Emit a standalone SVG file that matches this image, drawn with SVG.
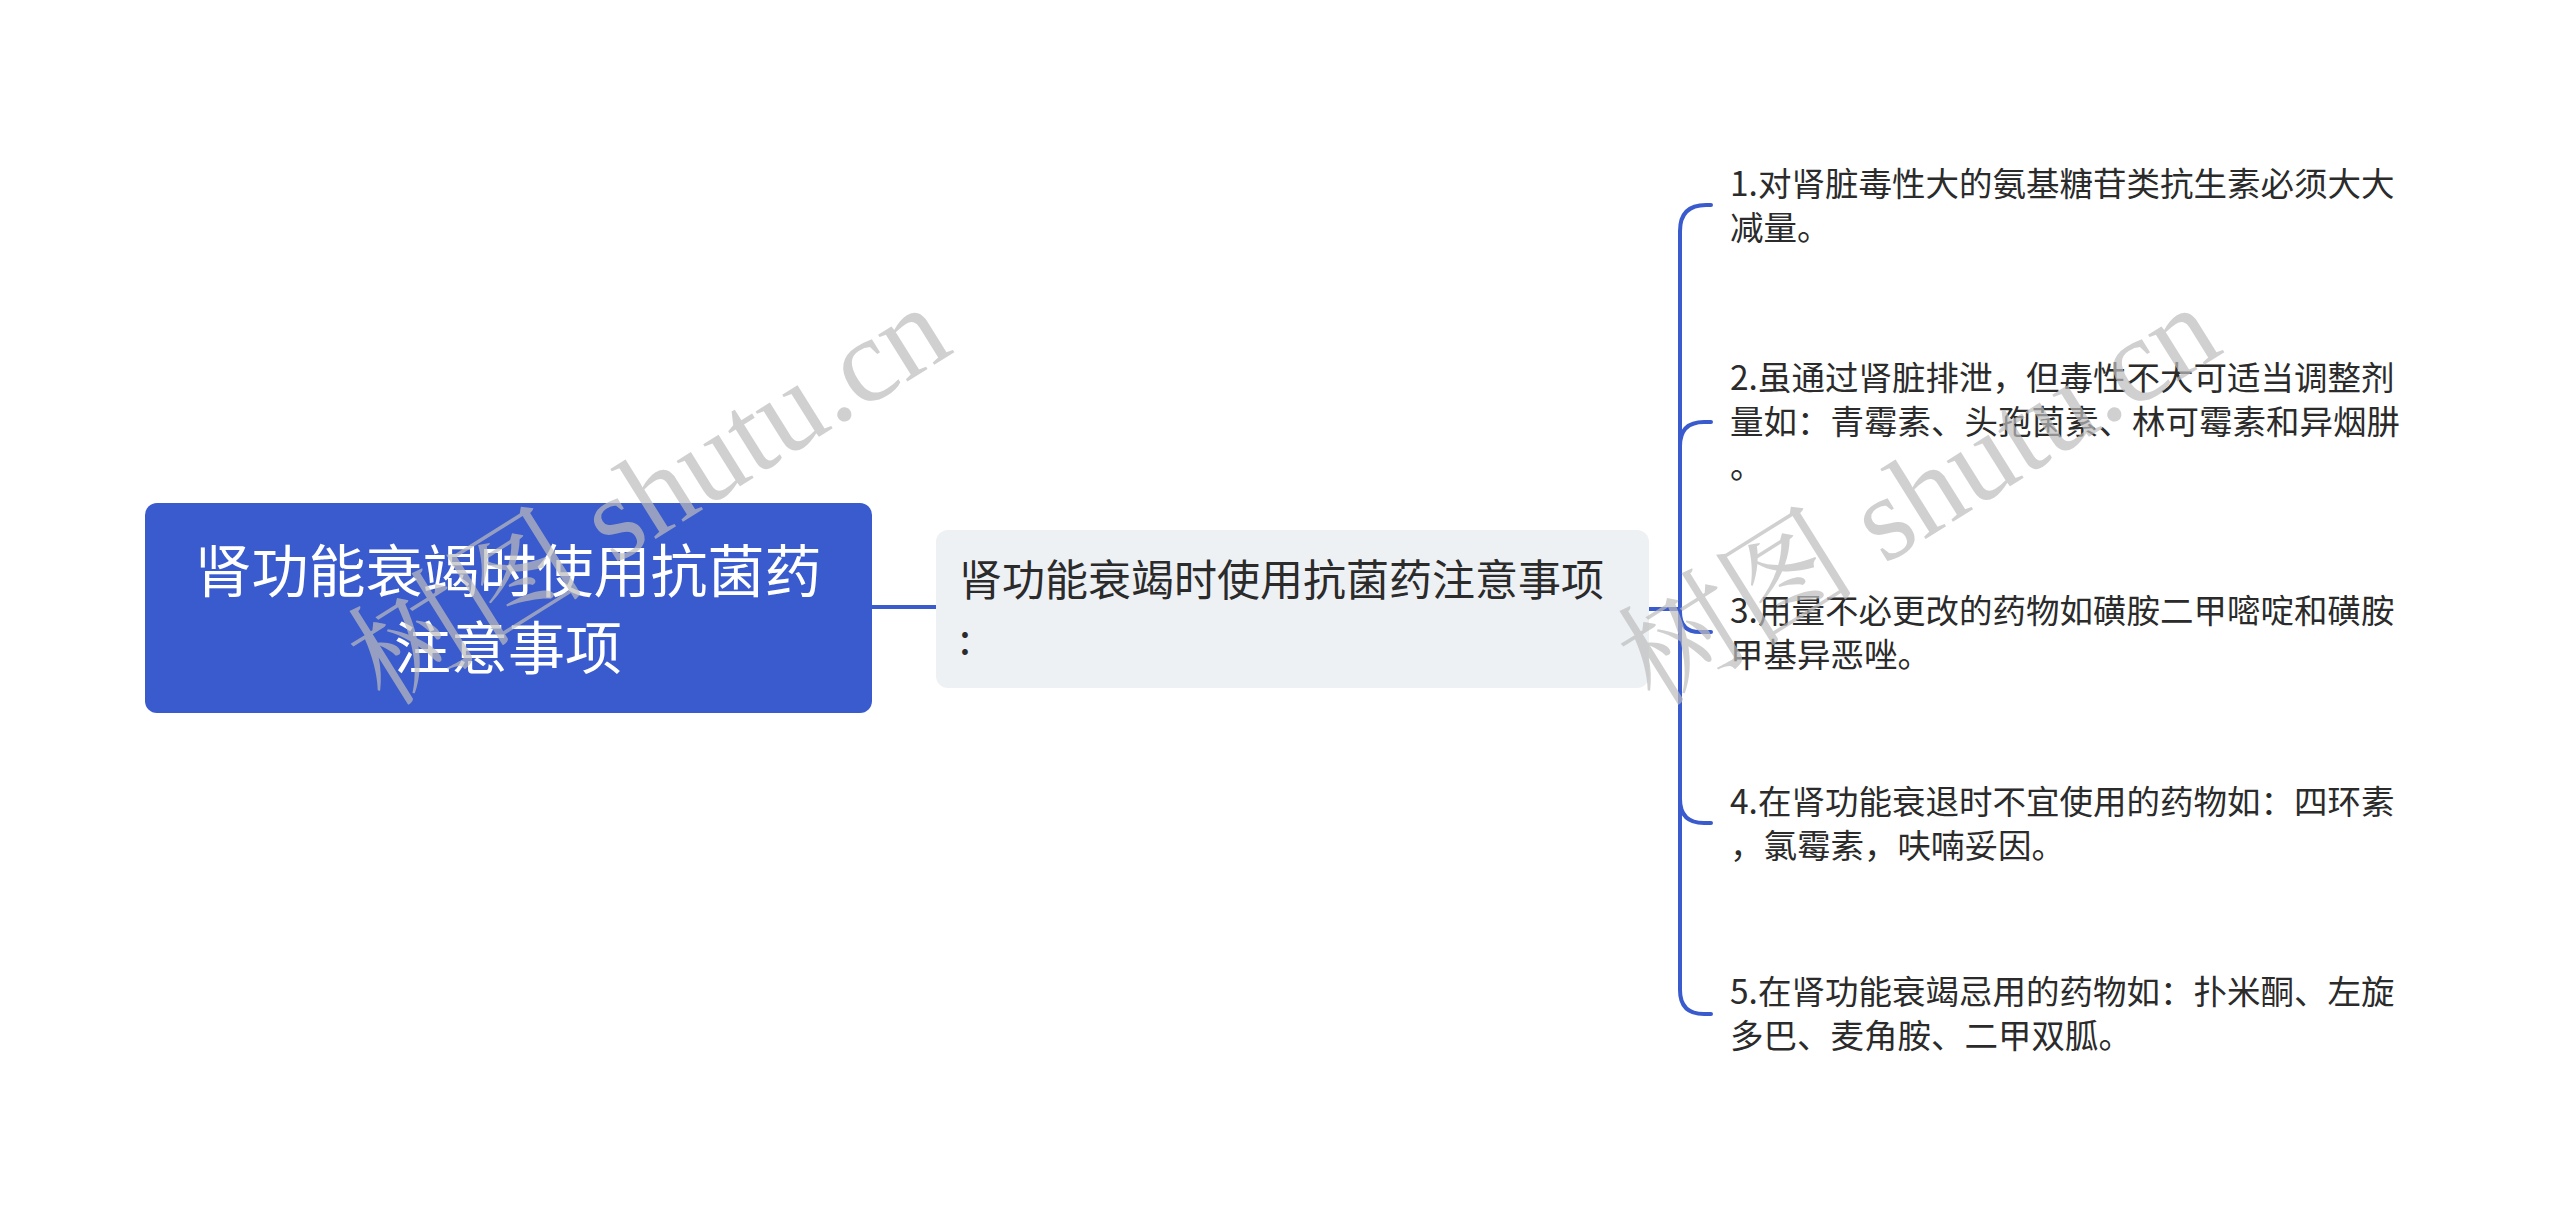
<svg xmlns="http://www.w3.org/2000/svg" width="2560" height="1218" viewBox="0 0 2560 1218">
<style>
.root-box{fill:#3a5bcd;}
.mid-box{fill:#eef1f4;}
.root-t{font-family:"Noto Sans CJK SC","Noto Sans",sans-serif;font-size:57px;fill:#ffffff;text-anchor:middle;}
.mid-t{font-family:"Noto Sans CJK SC","Noto Sans",sans-serif;font-size:43px;fill:#2b2b2b;}
.leaf-t{font-family:"Noto Sans CJK SC","Noto Sans",sans-serif;font-size:33.5px;fill:#2b2b2b;}
.conn{fill:none;stroke:#3a5bcd;stroke-width:4;stroke-linecap:round;stroke-linejoin:round;}
.wm{font-family:"Liberation Serif","Noto Serif CJK SC","Noto Sans CJK SC",serif;font-size:120px;fill:#bdbdbd;opacity:0.7;}
</style>
<rect width="2560" height="1218" fill="#ffffff"/>
<g id="connectors">
<path class="conn" d="M872,607 H936"/>
<path class="conn" d="M1649,609 H1680"/>
<path class="conn" d="M1680,609 V231 Q1680,205 1706,205 H1711"/>
<path class="conn" d="M1680,609 V446 Q1680,422 1704,422 H1711"/>
<path class="conn" d="M1680,609 V612 Q1680,632 1700,632 H1711"/>
<path class="conn" d="M1680,609 V799 Q1680,823 1704,823 H1711"/>
<path class="conn" d="M1680,609 V990 Q1680,1014 1704,1014 H1711"/>
</g>
<g id="root">
<rect class="root-box" x="145" y="503" width="727" height="210" rx="12"/>
<text class="root-t" x="508" y="592">肾功能衰竭时使用抗菌药</text>
<text class="root-t" x="508" y="669">注意事项</text>
</g>
<g id="middle">
<rect class="mid-box" x="936" y="530" width="713" height="158" rx="12"/>
<text class="mid-t" x="959" y="596">肾功能衰竭时使用抗菌药注意事项</text>
<text class="mid-t" x="959" y="654">:</text>
</g>
<g id="leaf1">
<text class="leaf-t" x="1730" y="196">1.对肾脏毒性大的氨基糖苷类抗生素必须大大</text>
<text class="leaf-t" x="1730" y="240">减量。</text>
</g>
<g id="leaf2">
<text class="leaf-t" x="1730" y="390">2.虽通过肾脏排泄，但毒性不大可适当调整剂</text>
<text class="leaf-t" x="1730" y="434">量如：青霉素、头孢菌素、林可霉素和异烟肼</text>
<text class="leaf-t" x="1730" y="478">。</text>
</g>
<g id="leaf3">
<text class="leaf-t" x="1730" y="623">3.用量不必更改的药物如磺胺二甲嘧啶和磺胺</text>
<text class="leaf-t" x="1730" y="667">甲基异恶唑。</text>
</g>
<g id="leaf4">
<text class="leaf-t" x="1730" y="814">4.在肾功能衰退时不宜使用的药物如：四环素</text>
<text class="leaf-t" x="1730" y="858">，氯霉素，呋喃妥因。</text>
</g>
<g id="leaf5">
<text class="leaf-t" x="1730" y="1004">5.在肾功能衰竭忌用的药物如：扑米酮、左旋</text>
<text class="leaf-t" x="1730" y="1048">多巴、麦角胺、二甲双胍。</text>
</g>
<g id="watermarks">
<text class="wm" transform="translate(385,708) rotate(-32)">树图 shutu.cn</text>
<text class="wm" transform="translate(1655,708) rotate(-32)">树图 shutu.cn</text>
</g>
</svg>
